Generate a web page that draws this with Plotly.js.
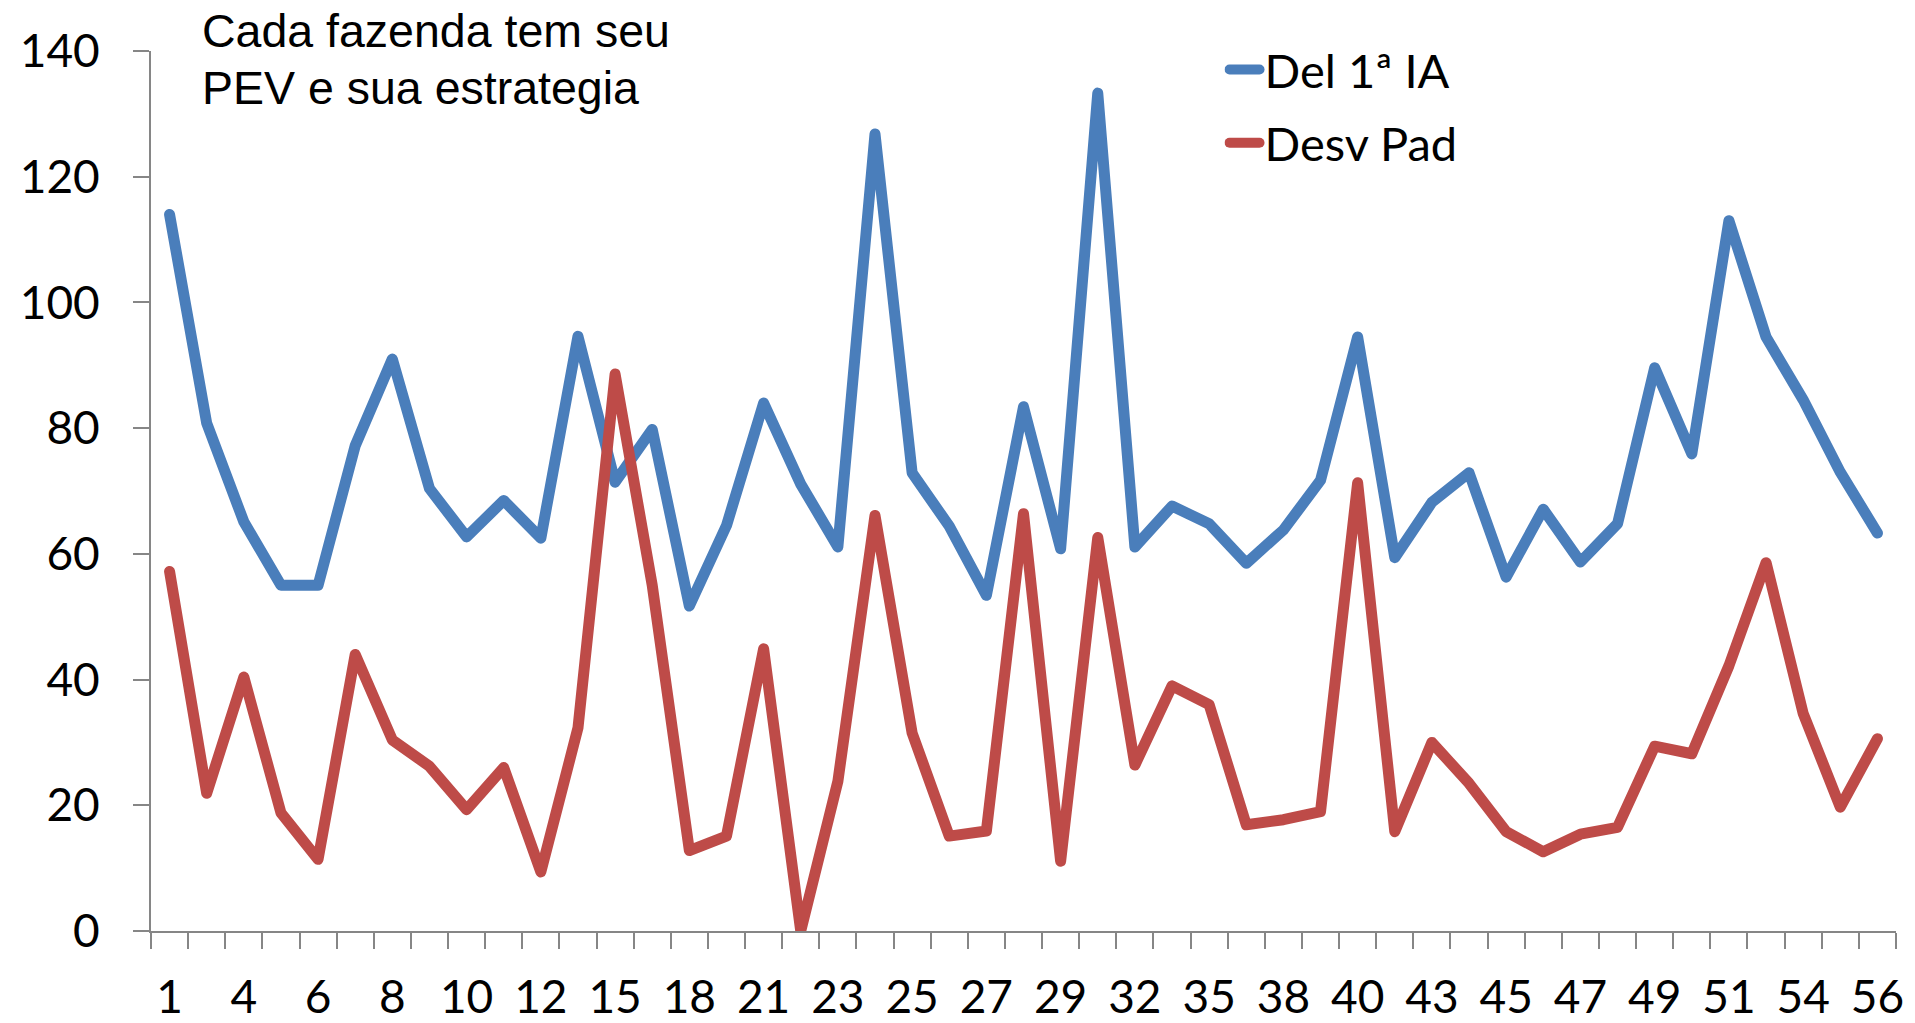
<!DOCTYPE html>
<html>
<head>
<meta charset="utf-8">
<script src="https://cdn.plot.ly/plotly-3.0.1.min.js"></script>
<style>
  html, body { margin: 0; padding: 0; background: #ffffff; }
  #chart { width: 1915px; height: 1023px; }
  #chart .scatterlayer .js-line { stroke-linejoin: round; stroke-linecap: round; }
  #chart .legend .js-line { stroke-linecap: round; }
</style>
</head>
<body>
<div id="chart"></div>
<script>
// Farm identifiers (only every second one is labelled on the axis)
const categories = ["1","2","4","5","6","7","8","9","10","11","12","13","15","16","18","19",
  "21","22","23","24","25","26","27","28","29","30","32","33","35","36","38","39",
  "40","41","43","44","45","46","47","48","49","50","51","52","54","55","56"];

// Del 1ª IA
const del1IA = [114, 80.8, 65.1, 55, 55, 77.2, 91, 70.4, 62.7, 68.5, 62.5, 94.6, 71.4, 79.8,
  51.7, 64.5, 84, 71.1, 61.1, 126.8, 72.9, 64.4, 53.4, 83.4, 60.8, 133.3, 61.1, 67.6, 64.8,
  58.5, 63.8, 71.7, 94.5, 59.4, 68.2, 72.9, 56.3, 67.1, 58.7, 64.8, 89.6, 75.9, 113, 94.5,
  84.5, 73, 63.3];

// Desv Pad
const desvPad = [57.2, 21.9, 40.4, 18.8, 11.4, 44, 30.4, 26.2, 19.3, 26, 9.4, 32.3, 88.6, 55,
  12.8, 15.1, 44.9, 0, 23.8, 66.1, 31.5, 15.1, 15.9, 66.4, 11.1, 62.6, 26.4, 39, 36, 16.9,
  17.7, 19, 71.3, 15.8, 30, 23.5, 15.8, 12.6, 15.4, 16.5, 29.4, 28.2, 42.2, 58.6, 34.6, 19.7,
  30.6];

const seriesNames = ["Del 1ª IA", "Desv Pad"];
const noteLines = ["Cada fazenda tem seu", "PEV e sua estrategia"];

const tickText = categories.map((c, i) => (i % 2 === 0 ? c : ""));

const axisGray = "#868686";
const tickFont = { family: "Lato, 'Open Sans', sans-serif", size: 46, color: "#000000" };
const noteFont = { family: "'Liberation Sans', Arial, sans-serif", size: 46.5, color: "#000000" };

const traces = [
  {
    x: categories, y: del1IA, name: seriesNames[0], type: "scatter", mode: "lines",
    legendgroup: "g1",
    line: { color: "#4A7EBB", width: 11, shape: "linear" },
    hoverinfo: "x+y+name"
  },
  {
    x: categories, y: desvPad, name: seriesNames[1], type: "scatter", mode: "lines",
    legendgroup: "g2",
    line: { color: "#BE4B48", width: 11, shape: "linear" },
    hoverinfo: "x+y+name"
  }
];

const layout = {
  width: 1915,
  height: 1023,
  margin: { l: 151, r: 19, t: 51, b: 92, pad: 0 },
  paper_bgcolor: "#ffffff",
  plot_bgcolor: "#ffffff",
  showlegend: true,
  legend: {
    x: 0.6152, xanchor: "left",
    y: 1.021, yanchor: "top",
    bgcolor: "rgba(0,0,0,0)",
    font: { family: "Lato, 'Open Sans', sans-serif", size: 47, color: "#000000" },
    itemwidth: 30,
    traceorder: "grouped",
    tracegroupgap: 9
  },
  xaxis: {
    type: "category",
    range: [-0.5, categories.length - 0.5],
    tickmode: "array",
    tickvals: categories,
    ticktext: tickText,
    tickson: "boundaries",
    ticks: "outside",
    ticklen: 16,
    tickwidth: 2,
    tickcolor: axisGray,
    showline: true,
    linecolor: axisGray,
    linewidth: 2,
    showgrid: false,
    zeroline: false,
    tickangle: 0,
    tickfont: tickFont,
    ticklabelstandoff: 25,
    fixedrange: true
  },
  yaxis: {
    range: [0, 140],
    tickmode: "linear",
    tick0: 0,
    dtick: 20,
    ticks: "outside",
    ticklen: 16,
    tickwidth: 2,
    tickcolor: axisGray,
    showline: true,
    linecolor: axisGray,
    linewidth: 2,
    showgrid: false,
    zeroline: false,
    tickfont: tickFont,
    ticklabelstandoff: 24,
    fixedrange: true
  },
  annotations: [
    {
      text: noteLines[0],
      xref: "paper", yref: "paper",
      x: 0.028, xanchor: "left",
      y: 1.0222, yanchor: "middle",
      align: "left",
      showarrow: false,
      font: noteFont
    },
    {
      text: noteLines[1],
      xref: "paper", yref: "paper",
      x: 0.028, xanchor: "left",
      y: 0.9574, yanchor: "middle",
      align: "left",
      showarrow: false,
      font: noteFont
    }
  ]
};

Plotly.newPlot("chart", traces, layout, { displayModeBar: false, responsive: false });
</script>
</body>
</html>
